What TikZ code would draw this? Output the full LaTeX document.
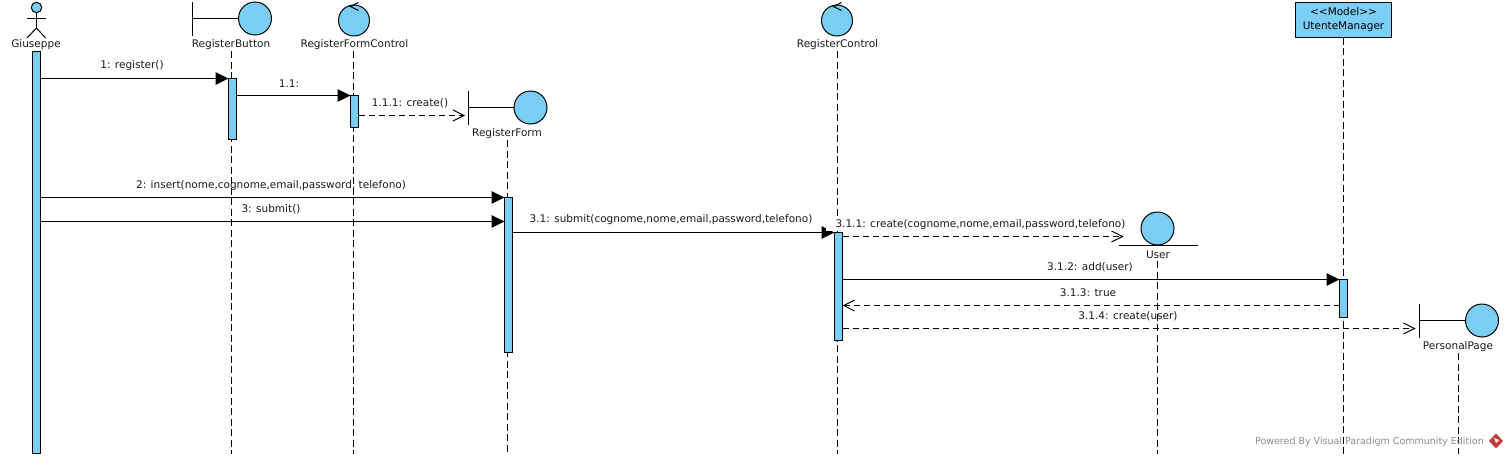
\documentclass[tikz,border=0pt]{standalone}
\usepackage{fontspec}
\setmainfont{DejaVu Sans}
\usetikzlibrary{arrows.meta,calc}
\definecolor{uml}{HTML}{7ACEF4}
\definecolor{wm}{HTML}{8C8C8C}
\definecolor{vp}{HTML}{C8373A}
\tikzset{
  x=1pt,y=-1pt,
  txt/.style={inner sep=0pt,font=\fontsize{10.5}{12}\selectfont,text=black!90,anchor=center},
  ball/.style={circle,draw=black,fill=uml,line width=1pt,inner sep=0pt,outer sep=0pt},
  bar/.style={rectangle,draw=black,fill=uml,line width=1pt,inner sep=0pt,outer sep=0pt,minimum width=8pt},
  life/.style={line width=1pt,dash pattern=on 7pt off 3.5pt},
  line/.style={line width=1pt},
  syncmsg/.style={line width=1pt,-{Triangle[length=13pt,width=12.5pt]}},
  replymsg/.style={line width=1pt,dash pattern=on 6pt off 4pt,-{Straight Barb[length=11pt,width=11pt,line width=1pt]}},
  umlbox/.style={rectangle,draw=black,fill=uml,line width=1pt,inner sep=0pt,outer sep=0pt,minimum width=96pt,minimum height=35pt,align=center,font=\fontsize{10.5}{14}\selectfont},
}
\begin{document}
\begin{tikzpicture}
\useasboundingbox (0,0) rectangle (1508,458);
% labels of participants
\node[txt] (lG) at (36,44.5) {Giuseppe};
\node[txt] (lB) at (231,44.5) {RegisterButton};
\node[txt] (lFC) at (354.5,44.5) {RegisterFormControl};
\node[txt] (lF) at (507,133.5) {RegisterForm};
\node[txt] (lC) at (837.5,44.5) {RegisterControl};
\node[txt] (lU) at (1158,254.5) {User};
\node[txt] (lP) at (1458,346.5) {PersonalPage};
\node[umlbox] (mgr) at (1343.5,20) {<{}<Model>{}>\\UtenteManager};
% lifelines
\draw[life] (231.5,51) -- (231.5,453.5);
\draw[life] (353.5,51) -- (353.5,453.5);
\draw[life] (507.5,140) -- (507.5,453.5);
\draw[life] (837.5,51) -- (837.5,453.5);
\draw[life] (1157.5,261) -- (1157.5,453.5);
\draw[life] (mgr.south) -- (1343.5,453.5);
\draw[life] (1458.5,353) -- (1458.5,453.5);
% actor
\node[ball,minimum size=10.5pt] (head) at (36.5,7.5) {};
\coordinate (hip) at (36.5,28);
\draw[line] (head.south) -- (hip);
\draw[line] (27,18) -- (45.5,18);
\draw[line] (27,38) -- (hip) -- (45.5,38);
% activations
\node[bar,minimum height=402pt] (aG) at (36.5,252) {};
\node[bar,minimum height=61pt] (aB) at (232.5,109) {};
\node[bar,minimum height=32pt] (aFC) at (354.5,111.5) {};
\node[bar,minimum height=155pt] (aF) at (508.5,274.5) {};
\node[bar,minimum height=108pt] (aC) at (838.5,286) {};
\node[bar,minimum height=38pt] (aM) at (1343.5,298.5) {};
% boundary RegisterButton
\node[ball,minimum size=33pt] (cB) at (255,18.5) {};
\coordinate (bB) at (192.5,18.5);
\draw[line] (cB.west) -- (bB);
\draw[line] (192.5,2) -- (192.5,35.5);
% control RegisterFormControl
\node[ball,minimum size=31pt] (cFC) at (354,20.5) {};
\draw[line] (358.5,2.5) -- (350.5,6.5) -- (358.5,10.5);
% boundary RegisterForm
\node[ball,minimum size=33pt] (cF) at (530.5,107.5) {};
\coordinate (bF) at (468.5,107.5);
\draw[line] (cF.west) -- (bF);
\draw[line] (468.5,91) -- (468.5,124.5);
% control RegisterControl
\node[ball,minimum size=31pt] (cC) at (837,20.5) {};
\draw[line] (841.5,2.5) -- (833.5,6.5) -- (841.5,10.5);
% entity User
\node[ball,minimum size=33pt] (cU) at (1157.5,228.5) {};
\draw[line] (1119,245.5) -- (1198,245.5);
% boundary PersonalPage
\node[ball,minimum size=33pt] (cP) at (1482,320.5) {};
\coordinate (bP) at (1419.5,320.5);
\draw[line] (cP.west) -- (bP);
\draw[line] (1419.5,304) -- (1419.5,337.5);
% messages
\draw[syncmsg] (aG.east |- 0,78.5) -- (aB.west |- 0,78.5);
\node[txt] at (132,66) {1: register()};
\draw[syncmsg] (aB.east |- 0,95.5) -- (aFC.west |- 0,95.5);
\node[txt] at (289,84) {1.1:};
\draw[replymsg] (aFC.east |- 0,115.5) -- ($(bF |- 0,115.5)+(-3.5,0)$);
\node[txt] at (410,103) {1.1.1: create()};
\draw[syncmsg] (aG.east |- 0,197.5) -- (aF.west |- 0,197.5);
\node[txt] at (271,185.5) {2: insert(nome,cognome,email,password, telefono)};
\draw[syncmsg] (aG.east |- 0,221.5) -- (aF.west |- 0,221.5);
\node[txt] at (271,209.5) {3: submit()};
\draw[syncmsg] (aF.east |- 0,232.5) -- (aC.west |- 0,232.5);
\node[txt] at (671,219.5) {3.1: submit(cognome,nome,email,password,telefono)};
\draw[replymsg] (aC.east |- 0,236.5) -- (1123.5,236.5);
\fill[white] (826,218) rectangle (836,231);
\node[txt,fill=white,inner sep=1pt] at (980.5,224.5) {3.1.1: create(cognome,nome,email,password,telefono)};
\draw[syncmsg] (aC.east |- 0,279.5) -- (aM.west |- 0,279.5);
\node[txt] at (1090,267.5) {3.1.2: add(user)};
\draw[replymsg] (aM.west |- 0,305.5) -- (aC.east |- 0,305.5);
\node[txt] at (1088,293) {3.1.3: true};
\draw[replymsg] (aC.east |- 0,328.5) -- ($(bP |- 0,328.5)+(-4,0)$);
\node[txt] at (1128,316) {3.1.4: create(user)};
% watermark
\node[txt,text=wm,anchor=east,font=\fontsize{9.5}{11}\selectfont] at (1484,441.5) {Powered By Visual Paradigm Community Edition};
\fill[vp] (1496,433.5) -- (1503,441) -- (1496,448.5) -- (1489,441) -- cycle;
\fill[white] (1494,438) -- (1499,440) -- (1496,443) -- cycle;
\end{tikzpicture}
\end{document}
